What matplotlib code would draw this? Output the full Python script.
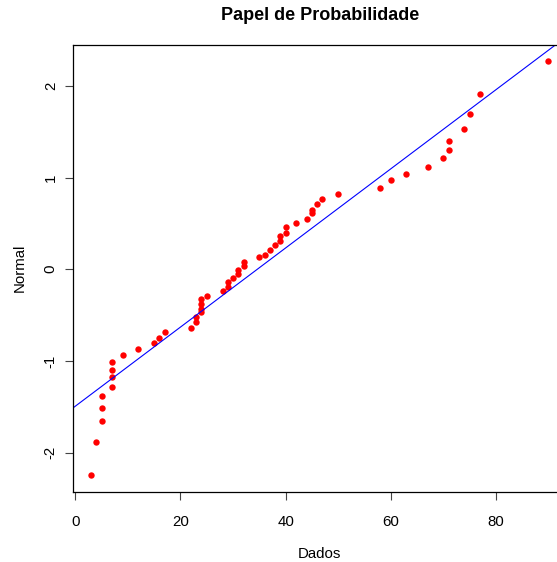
import matplotlib
matplotlib.use("Agg")
import matplotlib.pyplot as plt

plt.rcParams['font.family'] = ['Liberation Sans', 'DejaVu Sans']

# Sample data (x) and normal quantiles (y)
dados = [3, 4, 5, 5, 5, 7, 7, 7, 7, 9, 12, 15, 16, 17,
         22, 23, 23, 24, 24, 24, 24, 25, 28, 29, 29,
         30, 31, 31, 32, 32, 35, 36, 37, 38,
         39, 39, 40, 40, 42, 44, 45, 45, 46, 47, 50,
         58, 60, 63, 67, 70, 71, 71, 74, 75,
         77, 90]
normal = [-2.25, -1.88, -1.66, -1.51, -1.38, -1.28, -1.18, -1.095, -1.014, -0.94, -0.87, -0.80, -0.75, -0.69,
          -0.64, -0.58, -0.52, -0.47, -0.43, -0.38, -0.33, -0.29, -0.24, -0.19, -0.14,
          -0.10, -0.055, -0.008, 0.036, 0.083, 0.13, 0.16, 0.21, 0.26,
          0.31, 0.36, 0.40, 0.46, 0.50, 0.55, 0.61, 0.65, 0.71, 0.77, 0.82,
          0.89, 0.97, 1.04, 1.12, 1.21, 1.30, 1.40, 1.53, 1.69,
          1.91, 2.27]

# Reference line (qqline): intercept and slope
line_intercept = -1.494
line_slope = 0.04314

x_ticks = [0, 20, 40, 60, 80]
y_ticks = [-2, -1, 0, 1, 2]

W, H = 557, 562
fig = plt.figure(figsize=(W / 100, H / 100), dpi=100)
left_px, right_px, top_px, bottom_px = 72.8, 566.7, 44.6, 492.0
ax = fig.add_axes([left_px / W, 1 - bottom_px / H,
                   (right_px - left_px) / W, (bottom_px - top_px) / H])

ax.plot(dados, normal, 'o', color='red', markersize=4.6, markeredgewidth=0)
ax.axline((0, line_intercept), slope=line_slope, color='blue', linewidth=0.8)

ax.set_xlim(-0.48, 93.48)
ax.set_ylim(-2.43, 2.45)
ax.set_xticks(x_ticks)
ax.set_yticks(y_ticks)
ax.set_xticklabels([str(v) for v in x_ticks])
ax.set_yticklabels([str(v) for v in y_ticks], rotation=90, va='center')

for s in ax.spines.values():
    s.set_linewidth(0.9)
    s.set_color('black')

ax.tick_params(axis='both', direction='out', length=5.8, width=0.8,
               labelsize=10.8, color='#444444')
ax.tick_params(axis='x', pad=10.5)
ax.tick_params(axis='y', pad=5)

fig.text((left_px + right_px) / 2 / W, 1 - 15.5 / H, 'Papel de Probabilidade',
         ha='center', va='center', fontsize=13, fontweight='bold')
fig.text((left_px + right_px) / 2 / W, 1 - 554.5 / H, 'Dados',
         ha='center', va='center', fontsize=10.8)
fig.text(20 / W, 1 - 268 / H, 'Normal', ha='center', va='center',
         rotation=90, fontsize=10.8)

fig.savefig('out.png', dpi=100)
